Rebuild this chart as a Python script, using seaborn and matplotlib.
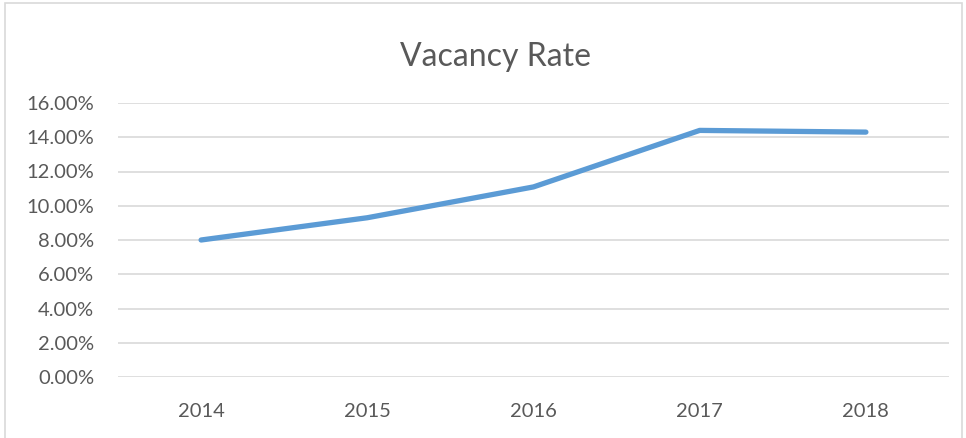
import pandas as pd
import seaborn as sns
import matplotlib.pyplot as plt
from matplotlib.ticker import PercentFormatter
from matplotlib.patches import Rectangle

years = ['2014', '2015', '2016', '2017', '2018']
vacancy = [8.0, 9.3, 11.1, 14.4, 14.3]
yticks = [0, 2, 4, 6, 8, 10, 12, 14, 16]

df = pd.DataFrame({'Year': years, 'Vacancy': vacancy})

sns.set_style('white')
plt.rcParams['font.family'] = ['Lato', 'DejaVu Sans']

fig = plt.figure(figsize=(9.66, 4.38), dpi=100)
ax = fig.add_axes([118 / 966, 1 - 377 / 438, (949 - 118) / 966, (377 - 103) / 438])

sns.lineplot(x=range(len(years)), y='Vacancy', data=df, ax=ax,
             color='#5B9BD5', linewidth=3.8, solid_capstyle='round', solid_joinstyle='round')

ax.set_xlim(-0.5, len(years) - 0.5)
ax.set_ylim(0, 16)
ax.set_yticks(yticks)
ax.yaxis.set_major_formatter(PercentFormatter(decimals=2))
ax.set_xticks(range(len(years)))
ax.set_xticklabels(years)
ax.grid(axis='y', color='#D9D9D9', linewidth=1.2)
ax.set_axisbelow(True)
for s in ax.spines.values():
    s.set_visible(False)
ax.tick_params(axis='both', length=0, labelsize=14.5, colors='#595959')
ax.tick_params(axis='y', pad=17)
ax.tick_params(axis='x', pad=19)
ax.set_xlabel('')
ax.set_ylabel('')

fig.text(495 / 966, 1 - 57 / 438, 'Vacancy Rate', ha='center', va='center',
         fontsize=23, color='#595959')

# chart frame
fig.patches.append(Rectangle((5 / 966, -0.05), 957 / 966, 1.05 - 3 / 438,
                             transform=fig.transFigure, fill=False,
                             edgecolor='#D9D9D9', linewidth=1.2))

fig.savefig('out.png', dpi=100)
